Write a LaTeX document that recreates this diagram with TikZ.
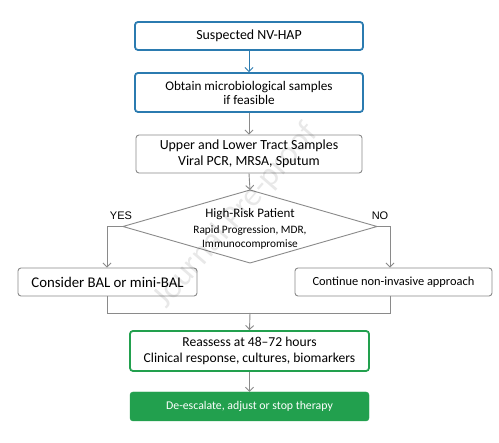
\documentclass[tikz,border=0pt]{standalone}
\usepackage{fontspec}
\setmainfont{Carlito}
\newfontfamily\arialf{Liberation Sans}
\usetikzlibrary{arrows.meta}
\definecolor{bblue}{HTML}{2B7BB0}
\definecolor{ggreen}{HTML}{22A04E}
\definecolor{gline}{HTML}{8A8A8A}
\tikzset{
  bluebox/.style={draw=bblue, line width=1.8pt, rounded corners=3pt, fill=white, align=center, inner sep=0pt},
  graybox/.style={draw=gline, line width=0.9pt, rounded corners=3pt, fill=white, align=center, inner sep=0pt},
  greenbox/.style={draw=ggreen, line width=1.8pt, rounded corners=3pt, fill=white, align=center, inner sep=0pt},
  fillbox/.style={draw=ggreen, fill=ggreen, rounded corners=3pt, text=white, align=center, inner sep=0pt},
  conn/.style={draw=gline, line width=0.9pt, -{Straight Barb[length=4pt,width=8pt]}},
  bconn/.style={draw=bblue, line width=0.9pt, -{Straight Barb[length=4pt,width=8pt]}},
  plain/.style={draw=gline, line width=0.9pt},
  lbl/.style={font=\arialf\fontsize{11}{13}\selectfont, inner sep=0pt}
}
\begin{document}
\begin{tikzpicture}[x=1pt,y=-1pt]
\useasboundingbox[fill=white] (0,0) rectangle (499,443);

\node[bluebox, minimum width=228pt, minimum height=28pt, font=\fontsize{13.9}{16}\selectfont] (b1) at (249,36) {Suspected NV-HAP};
\node[bluebox, minimum width=228pt, minimum height=39pt, font=\fontsize{13.2}{14}\selectfont] (b2) at (249,92.5) {Obtain microbiological samples\\if feasible};
\node[graybox, minimum width=226pt, minimum height=38pt, font=\fontsize{13.9}{15.5}\selectfont] (b3) at (249,154) {Upper and Lower Tract Samples\\Viral PCR, MRSA, Sputum};
\coordinate (dt) at (250,190);
\coordinate (dl) at (123,226.5);
\coordinate (dr) at (377,226.5);
\coordinate (db) at (250,263);
\draw[plain] (dt) -- (dr) -- (db) -- (dl) -- cycle;
\node[font=\fontsize{13}{14}\selectfont, align=center, inner sep=0pt] (dtxt) at (250,229) {High-Risk Patient\\[2pt]{\fontsize{11.3}{15.5}\selectfont Rapid Progression, MDR,}\\{\fontsize{11.3}{15.5}\selectfont Immunocompromise}};
\node[graybox, minimum width=179pt, minimum height=28pt, font=\fontsize{14.8}{16}\selectfont] (bl) at (107.5,282) {Consider BAL or mini-BAL};
\node[graybox, minimum width=197pt, minimum height=28pt, font=\fontsize{12.4}{14}\selectfont] (br) at (393.5,282) {Continue non-invasive approach};
\node[lbl] (yes) at (121,216) {YES};
\node[lbl] (no) at (380,216) {NO};
\node[greenbox, minimum width=239pt, minimum height=40pt, font=\fontsize{13.6}{15.5}\selectfont] (b4) at (249.5,351) {Reassess at 48--72 hours\\Clinical response, cultures, biomarkers};
\node[fillbox, minimum width=239pt, minimum height=29pt, font=\fontsize{11.8}{14}\selectfont] (b5) at (249.5,406.5) {De-escalate, adjust or stop therapy};

\coordinate (jl) at (107,313);
\coordinate (jr) at (390,313);
\coordinate (jm) at (250,313);
\coordinate (yl) at (107,226.5);
\coordinate (yr) at (390,226.5);

\draw[bconn] (b1.south) -- (b2.north);
\draw[conn] (b2.south) -- (b3.north);
\draw[conn] (b3.south) -- (dt);
\draw[conn] (dl) -- (yl) -- (yl |- bl.north);
\draw[conn] (dr) -- (yr) -- (yr |- br.north);
\draw[plain] (jl |- bl.south) -- (jl) -- (jr) -- (jr |- br.south);
\draw[conn] (jm) -- (b4.north);
\draw[conn] (b4.south) -- (b5.north);

% watermark
\node[rotate=49, text=black, text opacity=0.09, font=\fontsize{33}{35}\selectfont, inner sep=0pt] (wm) at (236,216) {Journal Pre-proof};
\end{tikzpicture}
\end{document}
